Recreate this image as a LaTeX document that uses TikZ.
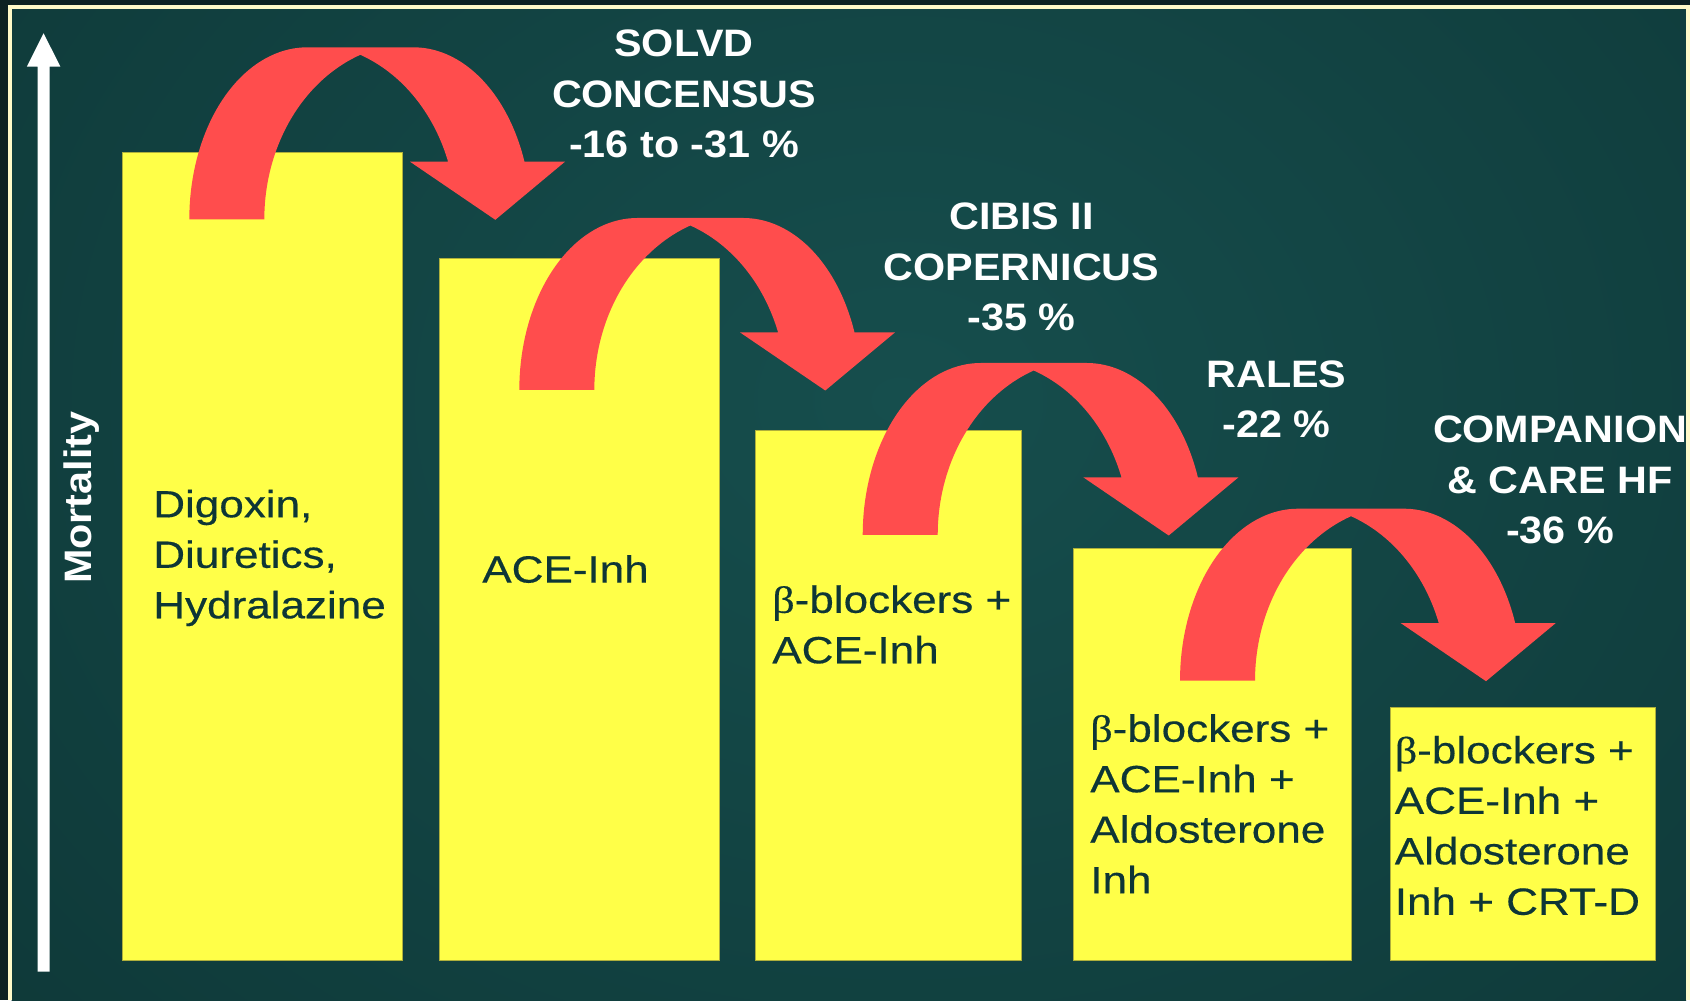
\documentclass[tikz,border=0pt]{standalone}
\usepackage{fontspec}
\newfontfamily\lblfont[FakeStretch=1.16,FakeBold=0.4]{Liberation Sans}
\newfontfamily\lblbold[FakeStretch=1.08]{Liberation Sans}
\newfontfamily\betafont[FakeStretch=1.16,FakeBold=0.4]{Liberation Serif}
\newcommand{\betachar}{{\betafont β}}
\definecolor{outerdark}{RGB}{13,34,34}
\definecolor{creamline}{RGB}{255,250,200}
\definecolor{bgin}{RGB}{22,78,77}
\definecolor{bgout}{RGB}{7,36,36}
\definecolor{baryellow}{RGB}{255,255,72}
\definecolor{baredge}{RGB}{175,175,60}
\definecolor{arrowred}{RGB}{255,77,77}
\definecolor{txtcol}{RGB}{14,54,54}
\pgfdeclareradialshading{bgshade}{\pgfpoint{0bp}{0bp}}{color(0bp)=(bgin); color(50bp)=(bgout)}
\begin{document}
\begin{tikzpicture}[x=0.025cm,y=0.025cm,
  lbl/.style={font=\lblbold\bfseries\fontsize{27.2}{35.9}\selectfont, text=white, align=center, inner sep=0pt, anchor=base},
  bartxt/.style={font=\lblfont\fontsize{27}{35.9}\selectfont, text=txtcol, align=left, inner sep=0pt, anchor=base west},
  bar/.style={fill=baryellow, draw=baredge, line width=0.6pt},
  redarrow/.pic={
    \fill[arrowred] (0,0)
      -- plot[domain=180:90, samples=40] ({118+118*cos(\x)}, {172*sin(\x)})
      -- (224,172)
      -- plot[domain=90:19.57, samples=40] ({224+118*cos(\x)}, {172*sin(\x)})
      -- (375.7,57.6) -- (306,-0.5) -- (220.7,57.6)
      -- plot[domain=19.1:69.16, samples=40] ({118+149*cos(\x)}, {176*sin(\x)})
      -- plot[domain=110.84:180, samples=40] ({224+149*cos(\x)}, {176*sin(\x)})
      -- cycle;
  }
]
\useasboundingbox (0,0) rectangle (1690,1000);
\fill[outerdark] (0,0) rectangle (1690,1000);
\begin{scope}
  \clip (11.5,0) rectangle (1686,991);
  \shade[shading=bgshade] (-300,-350) rectangle (2100,1550);
  % axis
  \fill[white] (43.6,966.7) -- (60.4,933.3) -- (49.7,933.3) -- (49.7,28.3)
     -- (37.5,28.3) -- (37.5,933.3) -- (26.8,933.3) -- cycle;
  \node[font=\lblbold\bfseries\fontsize{27.2}{35.9}\selectfont, text=white, inner sep=0pt, rotate=90] (ylab) at (81.4,502.3) {Mortality};
  % bars
  \path[bar] (122,40) rectangle (402,848);
  \path[bar] (439,40) rectangle (719,742);
  \path[bar] (755,40) rectangle (1021,570);
  \path[bar] (1073,40) rectangle (1351,452);
  \path[bar] (1390,40) rectangle (1655,293);
  % bar texts (anchor at baseline of last line)
  \node[bartxt] (t1) at (153,381.7) {Digoxin,\\Diuretics,\\Hydralazine};
  \node[bartxt] (t2) at (482,417.4) {ACE-Inh};
  \node[bartxt] (t3) at (772,336.7) {\betachar-blockers +\\ACE-Inh};
  \node[bartxt] (t4) at (1090,106.8) {\betachar-blockers +\\ACE-Inh +\\Aldosterone\\Inh};
  \node[bartxt] (t5) at (1394.5,85.2) {\betachar-blockers +\\ACE-Inh +\\Aldosterone\\Inh + CRT-D};
  % arrows
  \pic at (189.3,780.7) {redarrow};
  \pic at (519.3,610) {redarrow};
  \pic at (862.7,465) {redarrow};
  \pic at (1180,319.3) {redarrow};
  % labels (anchor at baseline of last line)
  \node[lbl] (l1) at (684,842.1) {SOLVD\\CONCENSUS\\-16 to -31 \%};
  \node[lbl] (l2) at (1021.5,669.5) {CIBIS II\\COPERNICUS\\-35 \%};
  \node[lbl] (l3) at (1276.5,562.5) {RALES\\-22 \%};
  \node[lbl] (l4) at (1560,456.3) {COMPANION\\\& CARE HF\\-36 \%};
\end{scope}
% cream frame lines
\fill[creamline] (7.5,991) rectangle (1690,995);
\fill[creamline] (7.5,0) rectangle (11.5,995);
\fill[creamline] (1686,0) rectangle (1690,995);
\end{tikzpicture}
\end{document}
